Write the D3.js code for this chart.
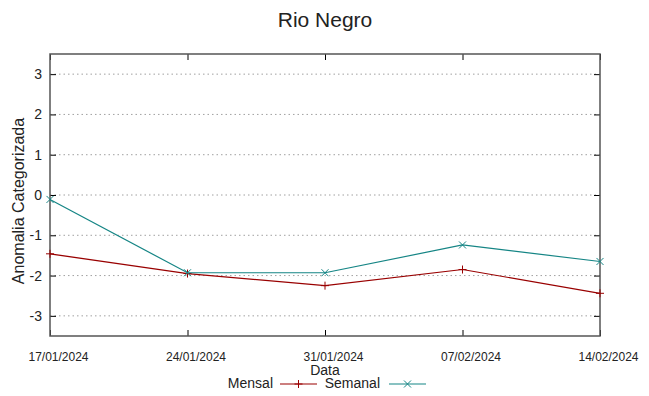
<!DOCTYPE html>
<html><head><meta charset="utf-8">
<script src="https://cdn.jsdelivr.net/npm/d3@7"></script>
<style>body{margin:0;background:#fff}svg{display:block}text{font-family:"Liberation Sans",Arial,sans-serif;fill:#222}</style>
</head><body>
<svg id="c" width="649" height="396"></svg>
<script>
const dates = ["17/01/2024","24/01/2024","31/01/2024","07/02/2024","14/02/2024"];
const mensal = [-1.46,-1.95,-2.25,-1.85,-2.44];
const semanal = [-0.11,-1.93,-1.93,-1.24,-1.65];
const yTicks = [-3,-2,-1,0,1,2,3];

const svg = d3.select("#c");
const L=50,R=600,T=54,B=336;
const x = d3.scalePoint().domain(dates).range([L,R]);
const y = d3.scaleLinear().domain([-3.5,3.5]).range([B,T]);

// grid
svg.append("g").selectAll("line").data(yTicks).join("line")
  .attr("x1",L).attr("x2",R).attr("y1",d=>y(d)).attr("y2",d=>y(d))
  .attr("stroke","#a0a0a0").attr("stroke-width",1).attr("stroke-dasharray","1.5,3");

// axes via d3
const yl = svg.append("g").attr("transform",`translate(${L},0)`)
  .call(d3.axisLeft(y).tickValues(yTicks).tickSize(-6).tickPadding(8).tickFormat(d=>String(d)));
const yr = svg.append("g").attr("transform",`translate(${R},0)`)
  .call(d3.axisRight(y).tickValues(yTicks).tickSize(-6).tickFormat(""));
const xb = svg.append("g").attr("transform",`translate(0,${B})`)
  .call(d3.axisBottom(x).tickSize(-6).tickPadding(16));
const xt = svg.append("g").attr("transform",`translate(0,${T})`)
  .call(d3.axisTop(x).tickSize(-6).tickFormat(""));
[yl,yr,xb,xt].forEach(g=>{g.select(".domain").remove();g.selectAll(".tick line").attr("stroke","#000").attr("stroke-width",1);});
yl.selectAll("text").attr("font-size",14).attr("fill","#222").attr("font-family","Liberation Sans, Arial, sans-serif");
xb.selectAll("text").attr("font-size",12).attr("fill","#222").attr("dx",8)
  .attr("font-family","Liberation Sans Narrow, Liberation Sans, Arial, sans-serif");

// frame
svg.append("rect").attr("x",L).attr("y",T).attr("width",R-L).attr("height",B-T)
  .attr("fill","none").attr("stroke","#555").attr("stroke-width",1.5);

const redC="#990000", tealC="#158585";
const line = d3.line().x((d,i)=>x(dates[i])).y(d=>y(d));
function plus(g,cx,cy,c){g.append("path").attr("d",`M${cx-4},${cy}H${cx+4}M${cx},${cy-4}V${cy+4}`).attr("stroke",c).attr("stroke-width",1).attr("fill","none");}
function cross(g,cx,cy,c){g.append("path").attr("d",`M${cx-3.5},${cy-3.5}L${cx+3.5},${cy+3.5}M${cx-3.5},${cy+3.5}L${cx+3.5},${cy-3.5}`).attr("stroke",c).attr("stroke-width",1).attr("fill","none");}

const gm = svg.append("g");
gm.append("path").datum(mensal).attr("d",line).attr("fill","none").attr("stroke",redC).attr("stroke-width",1.2);
mensal.forEach((v,i)=>plus(gm,x(dates[i]),y(v),redC));
const gs = svg.append("g");
gs.append("path").datum(semanal).attr("d",line).attr("fill","none").attr("stroke",tealC).attr("stroke-width",1.2);
semanal.forEach((v,i)=>cross(gs,x(dates[i]),y(v),tealC));

// title & labels
svg.append("text").attr("x",325).attr("y",27).attr("text-anchor","middle").attr("font-size",21).text("Rio Negro");
svg.append("text").attr("transform","translate(24,201) rotate(-90)").attr("text-anchor","middle").attr("font-size",16).text("Anomalia Categorizada");
svg.append("text").attr("x",325).attr("y",375).attr("text-anchor","middle").attr("font-size",14).text("Data");

// legend
const lg = svg.append("g");
lg.append("text").attr("x",273).attr("y",388).attr("text-anchor","end").attr("font-size",14).text("Mensal");
lg.append("line").attr("x1",280).attr("x2",317).attr("y1",384).attr("y2",384).attr("stroke",redC).attr("stroke-width",1.2);
plus(lg,298.5,384,redC);
lg.append("text").attr("x",380).attr("y",388).attr("text-anchor","end").attr("font-size",14).text("Semanal");
lg.append("line").attr("x1",389).attr("x2",426).attr("y1",384).attr("y2",384).attr("stroke",tealC).attr("stroke-width",1.2);
cross(lg,407.5,384,tealC);
</script>
</body></html>
